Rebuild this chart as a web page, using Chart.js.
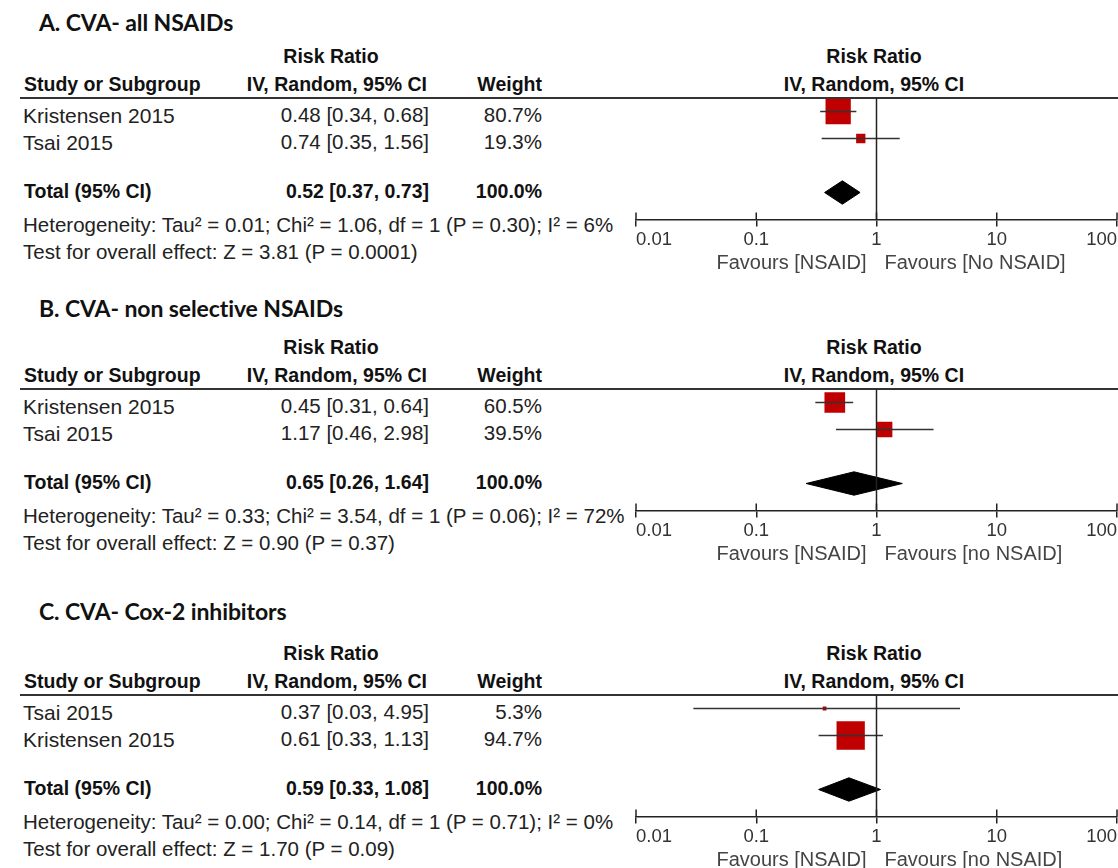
<!DOCTYPE html>
<html>
<head>
<meta charset="utf-8">
<script src="https://cdn.jsdelivr.net/npm/chart.js@4.4.0/dist/chart.umd.min.js"></script>
<style>
  html, body { margin: 0; padding: 0; background: #fff; }
  #page { position: relative; width: 1118px; height: 868px; overflow: hidden;
          font-family: "Liberation Sans", Arial, sans-serif; color: #222; }
  .t { position: absolute; white-space: nowrap; line-height: 1; }
  .reg { font-size: 20.5px; color: #222; }
  .name { font-size: 21px; color: #222; }
  .bold { font-size: 19.5px; font-weight: bold; color: #111; }
  .title { font-family: Lato, "Open Sans", sans-serif; font-weight: bold; font-size: 23px; color: #111; letter-spacing: -0.1px; }
  .rule { position: absolute; left: 20px; width: 1098px; height: 0; border-top: 2px solid #333; }
  canvas { position: absolute; }
</style>
</head>
<body>
<div id="page"></div>
<script>
// ---- Forest plot data: risk ratios with 95% CI (IV, random effects) ----
const panelTitles = ['A. CVA- all NSAIDs', 'B. CVA- non selective NSAIDs', 'C. CVA- Cox-2 inhibitors'];

const studiesA = ['Kristensen 2015', 'Tsai 2015'];
const rrA      = [0.48, 0.74];
const lowerA   = [0.34, 0.35];
const upperA   = [0.68, 1.56];
const weightA  = [80.7, 19.3];
const totalA   = [0.52, 0.37, 0.73];   // estimate, lower, upper
const hetA     = 'Heterogeneity: Tau² = 0.01; Chi² = 1.06, df = 1 (P = 0.30); I² = 6%';
const testA    = 'Test for overall effect: Z = 3.81 (P = 0.0001)';

const studiesB = ['Kristensen 2015', 'Tsai 2015'];
const rrB      = [0.45, 1.17];
const lowerB   = [0.31, 0.46];
const upperB   = [0.64, 2.98];
const weightB  = [60.5, 39.5];
const totalB   = [0.65, 0.26, 1.64];
const hetB     = 'Heterogeneity: Tau² = 0.33; Chi² = 3.54, df = 1 (P = 0.06); I² = 72%';
const testB    = 'Test for overall effect: Z = 0.90 (P = 0.37)';

const studiesC = ['Tsai 2015', 'Kristensen 2015'];
const rrC      = [0.37, 0.61];
const lowerC   = [0.03, 0.33];
const upperC   = [4.95, 1.13];
const weightC  = [5.3, 94.7];
const totalC   = [0.59, 0.33, 1.08];
const hetC     = 'Heterogeneity: Tau² = 0.00; Chi² = 0.14, df = 1 (P = 0.71); I² = 0%';
const testC    = 'Test for overall effect: Z = 1.70 (P = 0.09)';

const favoursLeft  = ['Favours [NSAID]', 'Favours [NSAID]', 'Favours [NSAID]'];
const favoursRight = ['Favours [No NSAID]', 'Favours [no NSAID]', 'Favours [no NSAID]'];

const tickValues = [0.01, 0.1, 1, 10, 100];
const tickLabels = ['0.01', '0.1', '1', '10', '100'];

// ---- Layout ----
const page = document.getElementById('page');
const panelTop = [98, 389, 695];      // header rule / top of plot area
const titleY   = [22, 308, 611];
const ROW = 27;                       // px per row unit
const plotLeft = 560, plotWidth = 558;
const padTop = 10, axisHeight = 70.5;
const FONT = '"Liberation Sans", Arial, sans-serif';

function text(str, x, y, cls, align) {
  const d = document.createElement('div');
  d.className = 't ' + cls;
  d.textContent = str;
  d.style.left = x + 'px';
  d.style.top = y + 'px';
  const tx = align === 'right' ? '-100%' : align === 'center' ? '-50%' : '0';
  d.style.transform = 'translate(' + tx + ',-50%)';
  page.appendChild(d);
  return d;
}

// draws tick marks above the axis line and the two "Favours" captions
const axisExtras = {
  id: 'axisExtras',
  afterDraw(chart, args, opts) {
    const { ctx, scales: { x } } = chart;
    const yAxis = chart.chartArea.bottom;
    ctx.save();
    ctx.strokeStyle = '#222';
    ctx.lineWidth = 1.5;
    x.ticks.forEach(t => {
      const px = x.getPixelForValue(t.value);
      ctx.beginPath();
      ctx.moveTo(px, yAxis - 7);
      ctx.lineTo(px, yAxis);
      ctx.stroke();
    });
    const c = x.getPixelForValue(1);
    ctx.font = '20px ' + FONT;
    ctx.fillStyle = '#444';
    ctx.textBaseline = 'middle';
    ctx.textAlign = 'right';
    ctx.fillText(opts.left, c - 10, yAxis + 44);
    ctx.textAlign = 'left';
    ctx.fillText(opts.right, c + 8, yAxis + 44);
    ctx.restore();
  }
};

function markerSide(w) { return 1.17 * Math.pow(w, 0.7); }

function drawPanel(i, studies, rr, lower, upper, weight, total, het, test) {
  const top = panelTop[i];

  // ---- table text ----
  text(panelTitles[i], 39, titleY[i], 'title');
  text('Risk Ratio', 331, top - 41, 'bold', 'center');
  text('Study or Subgroup', 24, top - 13, 'bold');
  text('IV, Random, 95% CI', 427, top - 13, 'bold', 'right');
  text('Weight', 542, top - 13, 'bold', 'right');
  text('Risk Ratio', 874, top - 41, 'bold', 'center');
  text('IV, Random, 95% CI', 874, top - 13, 'bold', 'center');
  const rule = document.createElement('div');
  rule.className = 'rule';
  rule.style.top = (top - 1) + 'px';
  page.appendChild(rule);

  studies.forEach((s, k) => {
    const y = top + (k + 0.5) * ROW + 3.5;
    text(s, 23, y, 'name');
    text(rr[k].toFixed(2) + ' [' + lower[k].toFixed(2) + ', ' + upper[k].toFixed(2) + ']', 429, y, 'reg', 'right');
    text(weight[k].toFixed(1) + '%', 542, y, 'reg', 'right');
  });
  const yTot = top + 3.5 * ROW - 0.5;
  text('Total (95% CI)', 24, yTot, 'bold');
  text(total[0].toFixed(2) + ' [' + total[1].toFixed(2) + ', ' + total[2].toFixed(2) + ']', 429, yTot, 'bold', 'right');
  text('100.0%', 542, yTot, 'bold', 'right');
  text(het, 23, top + 127, 'reg');
  text(test, 23, top + 154, 'reg');

  // ---- plot ----
  const canvas = document.createElement('canvas');
  canvas.width = plotWidth;
  canvas.height = Math.round(padTop + 4.5 * ROW + axisHeight);
  canvas.style.left = plotLeft + 'px';
  canvas.style.top = (top - padTop) + 'px';
  page.appendChild(canvas);

  const rowOf = k => k + 1;
  const totalRow = studies.length + 2;
  const halfH = 11.7 / ROW;

  const datasets = [];
  // line of no effect
  datasets.push({
    data: [{ x: 1, y: 0.5 }, { x: 1, y: totalRow + 1 }],
    showLine: true, borderColor: '#222', borderWidth: 1.5, pointRadius: 0
  });
  // confidence intervals
  studies.forEach((s, k) => {
    datasets.push({
      data: [{ x: lower[k], y: rowOf(k) }, { x: upper[k], y: rowOf(k) }],
      showLine: true, borderColor: '#333', borderWidth: 1.5, pointRadius: 0
    });
  });
  // study estimates, square area grows with weight
  datasets.push({
    data: rr.map((v, k) => ({ x: v, y: rowOf(k) })),
    pointStyle: 'rect',
    pointRadius: weight.map(w => markerSide(w) / Math.SQRT2),
    backgroundColor: '#c00000', borderWidth: 0, showLine: false
  });
  // pooled estimate diamond (upper half, then lower half filled up to it)
  datasets.push({
    data: [{ x: total[1], y: totalRow }, { x: total[0], y: totalRow - halfH }, { x: total[2], y: totalRow }],
    showLine: true, borderColor: '#000', borderWidth: 1, pointRadius: 0, tension: 0
  });
  datasets.push({
    data: [{ x: total[1], y: totalRow }, { x: total[0], y: totalRow + halfH }, { x: total[2], y: totalRow }],
    showLine: true, borderColor: '#000', borderWidth: 1, pointRadius: 0, tension: 0,
    fill: '-1', backgroundColor: '#000'
  });

  new Chart(canvas, {
    type: 'scatter',
    data: { datasets },
    plugins: [axisExtras],
    options: {
      responsive: false,
      animation: false,
      events: [],
      layout: { autoPadding: false, padding: { top: padTop, left: 636 - plotLeft, right: 1, bottom: 0 } },
      plugins: {
        legend: { display: false },
        tooltip: { enabled: false },
        axisExtras: { left: favoursLeft[i], right: favoursRight[i] }
      },
      scales: {
        x: {
          type: 'logarithmic',
          min: tickValues[0],
          max: tickValues[tickValues.length - 1],
          afterBuildTicks: s => { s.ticks = tickValues.map(v => ({ value: v })); },
          afterFit: s => { s.height = axisHeight; s.paddingLeft = 0; s.paddingRight = 0; },
          border: { display: true, color: '#222', width: 1.5 },
          grid: { display: true, drawOnChartArea: false, drawTicks: true, tickLength: 7, color: '#222', lineWidth: 1.5 },
          ticks: {
            align: 'inner', maxRotation: 0, autoSkip: false, padding: 2,
            color: '#333', font: { family: FONT, size: 18.5 },
            callback: (v, idx) => tickLabels[idx]
          }
        },
        y: {
          type: 'linear', reverse: true, min: 0.5, max: totalRow + 1, display: false
        }
      }
    }
  });
}

drawPanel(0, studiesA, rrA, lowerA, upperA, weightA, totalA, hetA, testA);
drawPanel(1, studiesB, rrB, lowerB, upperB, weightB, totalB, hetB, testB);
drawPanel(2, studiesC, rrC, lowerC, upperC, weightC, totalC, hetC, testC);
</script>
</body>
</html>
